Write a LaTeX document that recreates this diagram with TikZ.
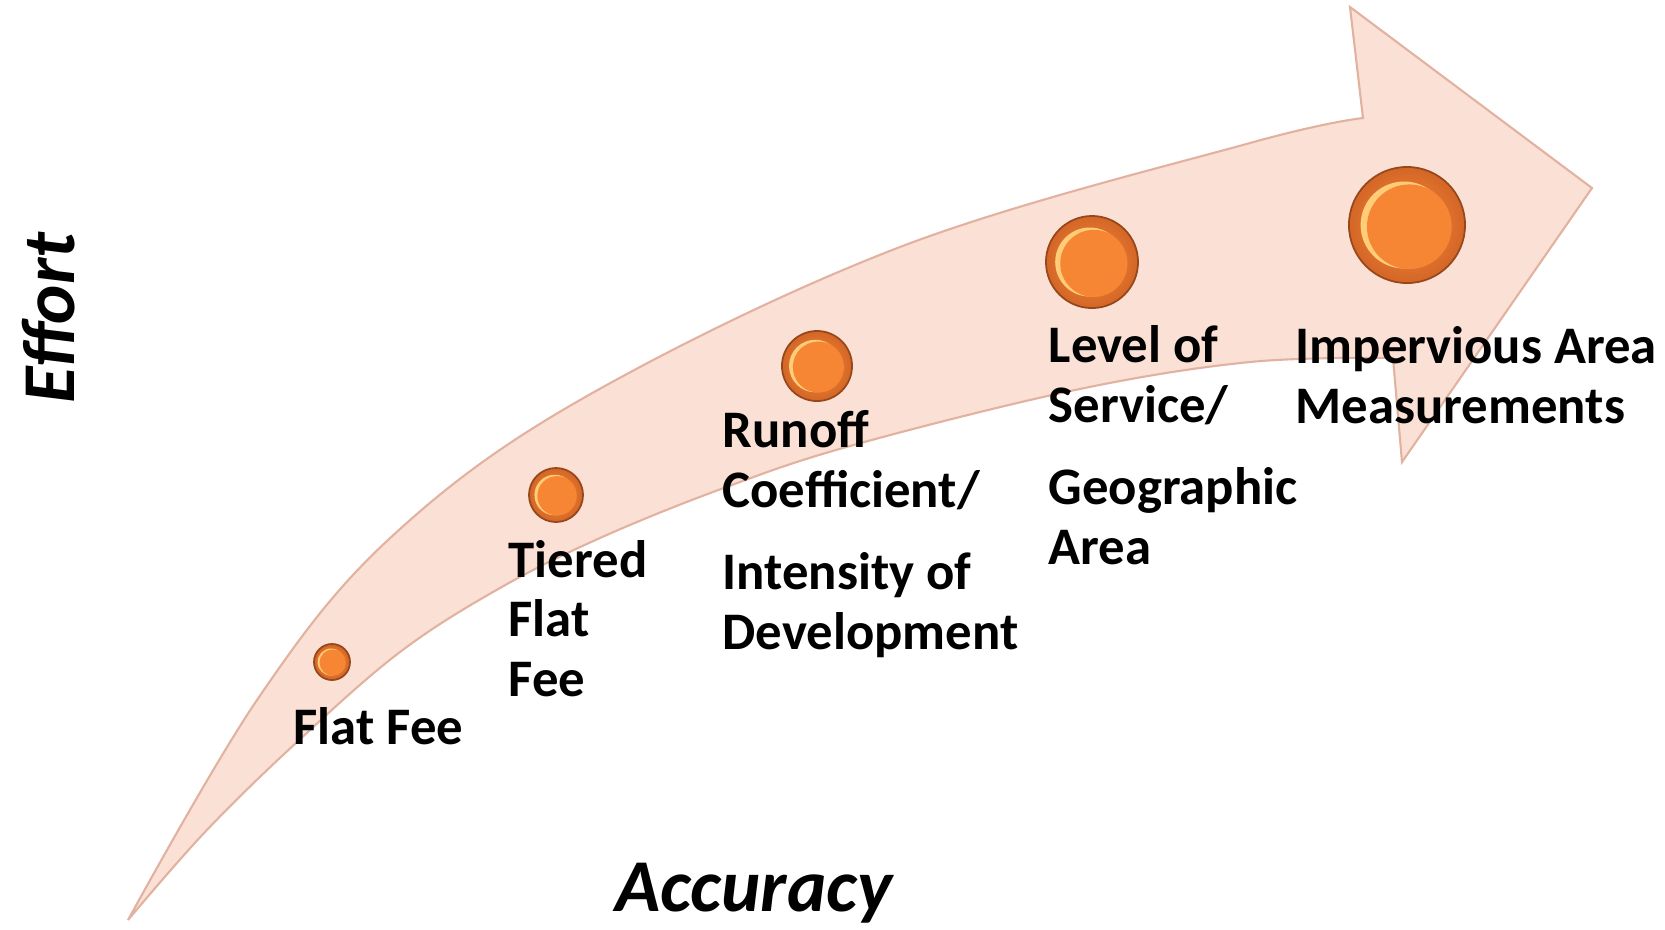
\documentclass[tikz,border=0pt]{standalone}
\usepackage{fontspec}
\setmainfont{Carlito}
\usetikzlibrary{calc, positioning}
\definecolor{peach}{RGB}{251,224,213}
\definecolor{peachline}{RGB}{226,178,160}
\definecolor{beadrim}{RGB}{150,72,28}
\definecolor{beadout}{RGB}{212,102,38}
\definecolor{beadin}{RGB}{246,140,62}
\definecolor{beadfill}{RGB}{246,134,52}
\definecolor{beadlight}{RGB}{255,204,120}
\tikzset{
    x=0.01cm, y=-0.01cm, % one unit is one pixel, y grows downwards
    every node/.style={inner sep=0pt, font=\bfseries\fontsize{15}{16.9}\selectfont}, % sets the text of the labels
    arrowbody/.style={fill=peach, draw=peachline, line width=0.6pt}, % the big curved arrow
    bead/.style={circle, draw=beadrim, line width=0.5pt, inner color=beadin, outer color=beadout}, % the orange dots
    axis/.style={font=\bfseries\itshape\fontsize{21.2}{25}\selectfont}, % the two axis words
}
% one dot: name, centre, radius
\newcommand{\bead}[3]{%
    \node[bead, minimum size=#3*0.02cm] (#1) at (#2) {};
    \fill[beadlight] ($(#1)+(-0.05*#3,0)$) circle (0.75*#3);
    \fill[beadfill] ($(#1)+(0.04*#3,0.03*#3)$) circle (0.73*#3);
}

\begin{document}
\begin{tikzpicture}
    \useasboundingbox (0,0) rectangle (1665,929);
    \draw[arrowbody]
        plot[smooth, tension=0.6] coordinates {(128,920) (257,700) (388,540) (580,400) (900,247) (1250,143) (1363,118)}
        -- (1350,7) -- (1592,188) -- (1402,462) -- (1393,358)
        -- plot[smooth, tension=0.6] coordinates {(1393,358) (1250,362) (1075,390) (850,446) (721,489) (600,538) (500,588) (400,652) (297,742) (205,832) (128,920)}
        -- cycle;

    \bead{s1}{332,662}{18}
    \bead{s2}{556,495}{27}
    \bead{s3}{817,366}{35}
    \bead{s4}{1092,262}{46}
    \bead{s5}{1407,225}{58}

    % the anchor is the baseline of the last line
    \node[anchor=base west] (t1) at (293,744) {Flat Fee};
    \node[anchor=base west, align=left] (t2) at (508,696) {Tiered\\Flat\\Fee};
    \node[anchor=base west, align=left] (t3) at (722,649) {Runoff\\Coefficient/\\[6.5pt]Intensity of\\Development};
    \node[anchor=base west, align=left] (t4) at (1048,564) {Level of\\Service/\\[6.5pt]Geographic\\Area};
    \node[anchor=base west, align=left] (t5) at (1295,423) {Impervious Area\\Measurements};

    \node[axis, rotate=90] (effort) at (49,318) {Effort};
    \node[axis, anchor=base west] (accuracy) at (615,911) {Accuracy};
\end{tikzpicture}
\end{document}
